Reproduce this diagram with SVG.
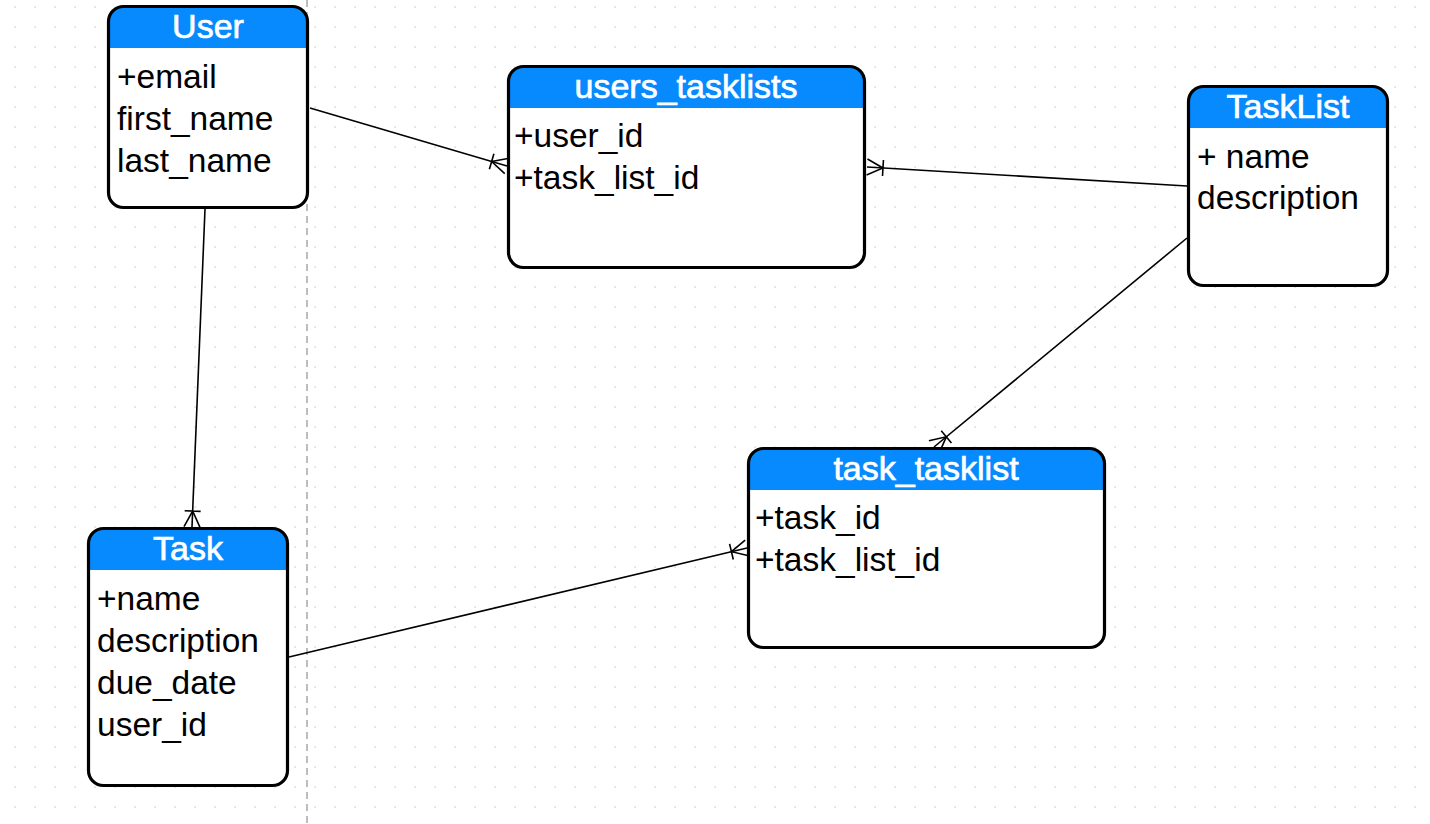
<svg xmlns="http://www.w3.org/2000/svg" width="1430" height="824" viewBox="0 0 1430 824">
<style>
.box{fill:#fff}
.frame{fill:none;stroke:#000;stroke-width:3.2}
.hdr{fill:#088aff}
.title{font-family:"Liberation Sans",Arial,sans-serif;font-size:34px;fill:#fff;stroke:#fff;stroke-width:0.7;text-anchor:middle}
.attr{font-family:"Liberation Sans",Arial,sans-serif;font-size:33.5px;fill:#000}
.conn{fill:none;stroke:#000;stroke-width:1.6;marker-end:url(#many)}
</style>
<defs>
<pattern id="dots" width="20" height="20" patternUnits="userSpaceOnUse">
<rect x="14.5" y="6.5" width="1.2" height="1.2" fill="#bdbdbd"/>
</pattern>
<marker id="many" viewBox="-20 -20 40 40" markerWidth="40" markerHeight="40" refX="0" refY="0" orient="auto" markerUnits="userSpaceOnUse">
<path d="M0,-8 L-16,0 L0,8 M-16,-8 L-16,8" fill="none" stroke="#000" stroke-width="1.6"/>
</marker>
</defs>
<rect width="1430" height="824" fill="#fff"/>
<rect width="1430" height="824" fill="url(#dots)"/>
<line x1="307" y1="0" x2="307" y2="824" stroke="#bdbdbd" stroke-width="2" stroke-dasharray="7,5"/>

<g id="connectors">
<line class="conn" x1="310" y1="108" x2="507" y2="166"/>
<line class="conn" x1="1187" y1="186" x2="867" y2="167"/>
<line class="conn" x1="1187" y1="238" x2="934" y2="447"/>
<line class="conn" x1="205" y1="209" x2="192" y2="527"/>
<line class="conn" x1="289" y1="657" x2="747" y2="548"/>
</g>

<g id="User">
<rect class="box" x="108.5" y="6.5" width="199" height="201" rx="15"/>
<path class="hdr" d="M108.5,48 V21.5 A15,15 0 0 1 123.5,6.5 H292.5 A15,15 0 0 1 307.5,21.5 V48 Z"/>
<rect class="frame" x="108.5" y="6.5" width="199" height="201" rx="15"/>
<text class="title" x="208" y="38">User</text>
<text class="attr" x="117" y="88">+email</text>
<text class="attr" x="117" y="130">first_name</text>
<text class="attr" x="117" y="172">last_name</text>
</g>

<g id="users_tasklists">
<rect class="box" x="508.5" y="66.5" width="356" height="201" rx="15"/>
<path class="hdr" d="M508.5,108 V81.5 A15,15 0 0 1 523.5,66.5 H849.5 A15,15 0 0 1 864.5,81.5 V108 Z"/>
<rect class="frame" x="508.5" y="66.5" width="356" height="201" rx="15"/>
<text class="title" x="686" y="98">users_tasklists</text>
<text class="attr" x="514" y="147">+user_id</text>
<text class="attr" x="514" y="189">+task_list_id</text>
</g>

<g id="TaskList">
<rect class="box" x="1188.5" y="86.5" width="199" height="199" rx="15"/>
<path class="hdr" d="M1188.5,128 V101.5 A15,15 0 0 1 1203.5,86.5 H1372.5 A15,15 0 0 1 1387.5,101.5 V128 Z"/>
<rect class="frame" x="1188.5" y="86.5" width="199" height="199" rx="15"/>
<text class="title" x="1288" y="118">TaskList</text>
<text class="attr" x="1197" y="168">+ name</text>
<text class="attr" x="1197" y="209">description</text>
</g>

<g id="task_tasklist">
<rect class="box" x="748.5" y="448.5" width="356" height="199" rx="15"/>
<path class="hdr" d="M748.5,490 V463.5 A15,15 0 0 1 763.5,448.5 H1089.5 A15,15 0 0 1 1104.5,463.5 V490 Z"/>
<rect class="frame" x="748.5" y="448.5" width="356" height="199" rx="15"/>
<text class="title" x="926" y="480">task_tasklist</text>
<text class="attr" x="755" y="529">+task_id</text>
<text class="attr" x="755" y="571">+task_list_id</text>
</g>

<g id="Task">
<rect class="box" x="88.5" y="528.5" width="199" height="257" rx="15"/>
<path class="hdr" d="M88.5,570 V543.5 A15,15 0 0 1 103.5,528.5 H272.5 A15,15 0 0 1 287.5,543.5 V570 Z"/>
<rect class="frame" x="88.5" y="528.5" width="199" height="257" rx="15"/>
<text class="title" x="188" y="560">Task</text>
<text class="attr" x="97" y="610">+name</text>
<text class="attr" x="97" y="652">description</text>
<text class="attr" x="97" y="694">due_date</text>
<text class="attr" x="97" y="736">user_id</text>
</g>
</svg>
